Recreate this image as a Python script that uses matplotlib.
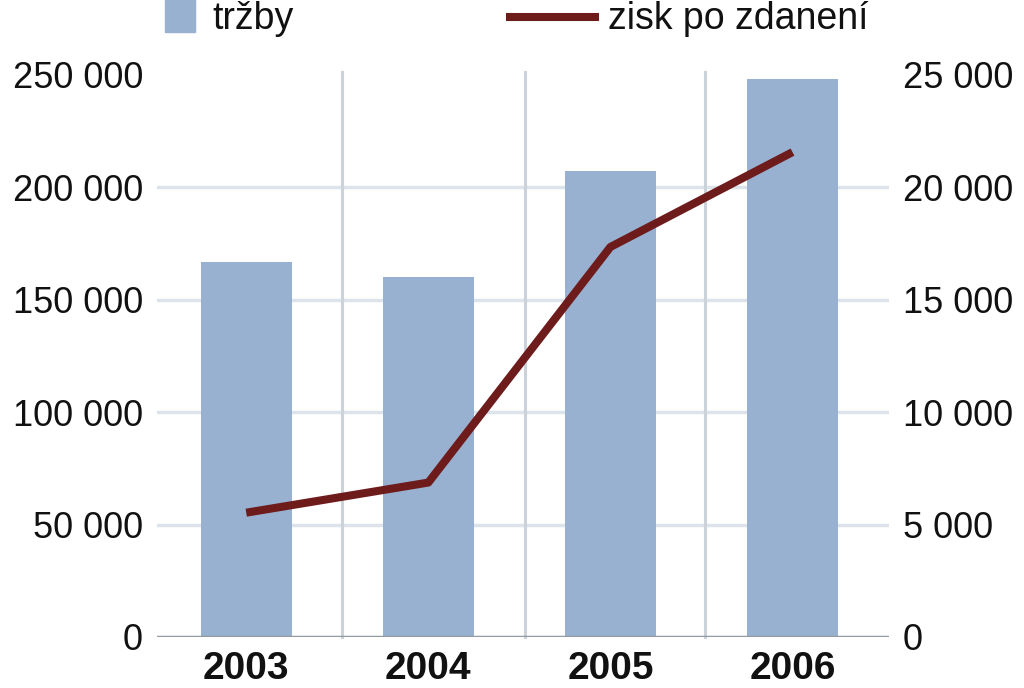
import matplotlib
matplotlib.use("Agg")
import matplotlib.pyplot as plt
from matplotlib.lines import Line2D
from matplotlib.patches import Rectangle

years = ["2003", "2004", "2005", "2006"]
trzby = [167000, 160000, 207500, 248000]
zisk = [5530, 6870, 17350, 21570]
left_ticks = [0, 50000, 100000, 150000, 200000, 250000]
right_ticks = [0, 5000, 10000, 15000, 20000, 25000]

def fmt(v):
    return f"{v:,}".replace(",", " ")

plt.rcParams['font.family'] = ['Liberation Sans', 'DejaVu Sans']

fig = plt.figure(figsize=(10.24, 6.88), dpi=100)
ax = fig.add_axes([157/1024, 1-637/688, (889-157)/1024, (637-75)/688])
x = list(range(len(years)))

bar_col = "#98b1d0"
line_col = "#6e1b1c"
grid_col = "#dde3ea"

ax.set_xlim(-0.49, 3.53)
ax.set_ylim(0, 250000)
for yv in left_ticks[1:-1]:
    ax.axhline(yv, color=grid_col, lw=2.5, zorder=0)
for xv in [0.525, 1.53, 2.52]:
    ax.plot([xv, xv], [0, 251500], color="#cbd2d9", lw=2.2, zorder=0, clip_on=False)
ax.bar(x, trzby, width=0.5, color=bar_col, zorder=2)
ax.axhline(0, color="#939aa1", lw=2.5, zorder=3)

for s in ax.spines.values():
    s.set_visible(False)
ax.set_xticks(x)
ax.set_xticklabels(years, fontsize=28, fontweight='bold')
ax.set_yticks(left_ticks)
ax.set_yticklabels([fmt(v) for v in left_ticks], fontsize=26)
ax.tick_params(axis='both', length=0, colors="#111111")
ax.tick_params(axis='y', pad=10)
ax.tick_params(axis='x', pad=10)

ax2 = ax.twinx()
ax2.set_ylim(0, 25000)
ax2.plot(x, zisk, color=line_col, lw=5.8, zorder=5, solid_joinstyle='round', solid_capstyle='butt')
for s in ax2.spines.values():
    s.set_visible(False)
ax2.set_yticks(right_ticks)
ax2.set_yticklabels([fmt(v) for v in right_ticks], fontsize=26)
ax2.tick_params(axis='y', length=0, pad=10, colors="#111111")

# legend
fig.patches.append(Rectangle((165/1024, 1-32/688), 30/1024, 40/688,
                             transform=fig.transFigure, color=bar_col, zorder=1))
fig.text(212/1024, 1-19/688, "tržby", fontsize=27, va='center', ha='left', color="#111111")
fig.lines.append(Line2D([510/1024, 595/1024], [1-17/688, 1-17/688],
                        transform=fig.transFigure, color=line_col, lw=5.8))
fig.text(608/1024, 1-19/688, "zisk po zdanení", fontsize=27, va='center', ha='left', color="#111111")

fig.savefig("out.png", dpi=100)
